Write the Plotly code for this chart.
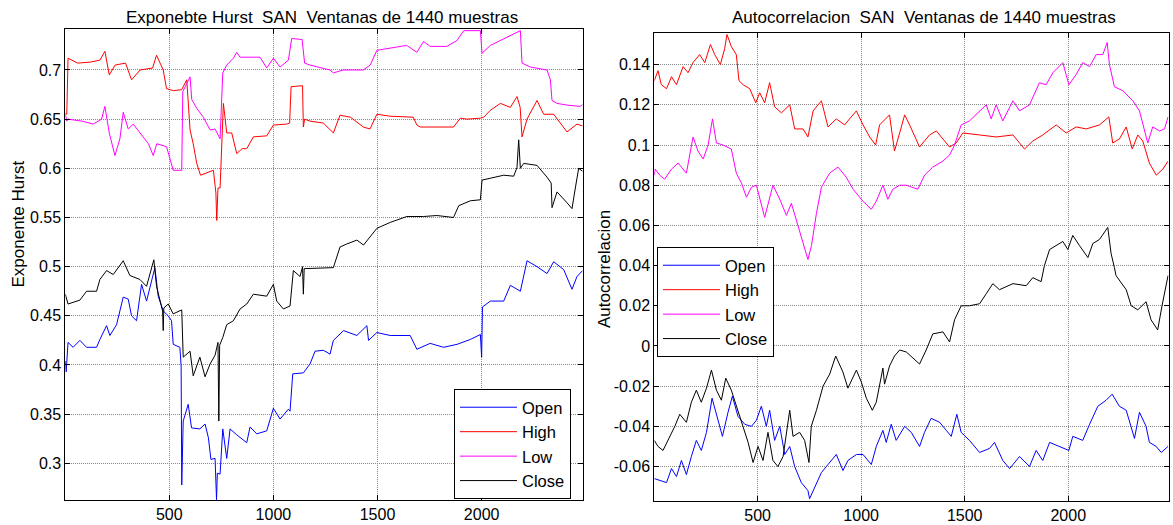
import plotly.graph_objects as go

# ---------------- Left panel: Hurst exponent ----------------
hurst_open_x = [1,5,14,38,71,103,151,167,199,215,247,279,303,319,343,367,391,431,447,471,495,511,519,551,557,560,567,591,607,647,672,688,700,720,727,731,744,757,776,792,824,872,888,920,968,1000,1032,1072,1080,1093,1144,1176,1200,1240,1272,1288,1337,1401,1449,1457,1497,1561,1657,1689,1753,1817,1882,1946,1994,2000,2004,2042,2106,2138,2186,2218,2266,2314,2346,2394,2434,2458,2485]
hurst_open_y = [0.404,0.393,0.423,0.418,0.425,0.418,0.418,0.426,0.440,0.430,0.441,0.469,0.467,0.450,0.445,0.482,0.465,0.499,0.470,0.455,0.450,0.445,0.421,0.418,0.399,0.278,0.343,0.360,0.336,0.335,0.340,0.326,0.304,0.305,0.263,0.290,0.289,0.335,0.305,0.335,0.329,0.321,0.337,0.330,0.333,0.356,0.345,0.355,0.353,0.391,0.392,0.401,0.414,0.415,0.411,0.425,0.435,0.430,0.440,0.425,0.433,0.430,0.430,0.416,0.422,0.418,0.421,0.426,0.431,0.408,0.459,0.465,0.465,0.481,0.475,0.506,0.500,0.493,0.505,0.497,0.477,0.490,0.496]

hurst_high_x = [1,8,14,60,120,167,191,212,240,290,319,360,420,439,471,487,520,560,584,600,615,632,650,712,724,728,734,744,760,776,800,824,850,872,904,968,1000,1064,1078,1085,1140,1144,1150,1176,1240,1288,1320,1370,1432,1464,1497,1560,1672,1689,1705,1865,1898,1930,1994,2010,2042,2090,2138,2170,2185,2194,2218,2266,2298,2346,2410,2458,2485]
hurst_high_y = [0.656,0.655,0.712,0.707,0.708,0.710,0.719,0.695,0.705,0.707,0.690,0.700,0.702,0.715,0.700,0.681,0.679,0.680,0.690,0.639,0.625,0.605,0.593,0.598,0.575,0.547,0.580,0.580,0.666,0.636,0.636,0.615,0.620,0.620,0.632,0.633,0.644,0.645,0.646,0.683,0.684,0.642,0.650,0.648,0.646,0.636,0.654,0.652,0.642,0.640,0.655,0.653,0.652,0.644,0.642,0.642,0.651,0.650,0.651,0.652,0.659,0.666,0.662,0.673,0.662,0.632,0.650,0.669,0.655,0.655,0.637,0.645,0.643]

hurst_low_x = [1,8,14,80,135,175,191,212,239,263,279,303,327,375,400,423,440,487,519,560,565,600,608,632,664,696,720,744,757,776,808,824,840,936,968,1000,1032,1072,1088,1138,1144,1150,1176,1272,1288,1336,1432,1465,1497,1560,1640,1689,1721,1753,1833,1882,1914,1994,2002,2042,2106,2186,2194,2234,2314,2330,2338,2362,2420,2474,2485]
hurst_low_y = [0.655,0.648,0.650,0.648,0.645,0.650,0.663,0.636,0.613,0.630,0.657,0.640,0.645,0.632,0.625,0.613,0.625,0.622,0.598,0.598,0.678,0.693,0.670,0.661,0.652,0.639,0.640,0.630,0.697,0.705,0.712,0.718,0.713,0.713,0.702,0.712,0.703,0.710,0.732,0.731,0.720,0.707,0.705,0.700,0.697,0.700,0.700,0.705,0.720,0.722,0.725,0.718,0.729,0.724,0.724,0.730,0.740,0.740,0.717,0.725,0.732,0.740,0.707,0.703,0.700,0.690,0.669,0.666,0.664,0.663,0.665]

hurst_close_x = [1,14,71,103,151,167,199,231,279,311,359,391,426,439,468,471,474,495,519,560,567,600,615,647,672,696,720,734,738,742,757,776,808,840,872,904,968,1000,1016,1048,1080,1096,1128,1140,1144,1148,1288,1320,1352,1401,1433,1465,1497,1561,1609,1641,1721,1785,1865,1890,1946,1994,2002,2042,2106,2154,2170,2178,2186,2202,2266,2314,2334,2338,2345,2362,2410,2434,2450,2466,2485]
hurst_close_y = [0.472,0.462,0.466,0.475,0.475,0.487,0.496,0.492,0.506,0.491,0.487,0.480,0.507,0.480,0.455,0.435,0.458,0.462,0.452,0.456,0.408,0.414,0.389,0.408,0.388,0.401,0.410,0.423,0.343,0.420,0.428,0.441,0.445,0.457,0.462,0.472,0.470,0.482,0.465,0.457,0.460,0.496,0.490,0.500,0.472,0.498,0.499,0.520,0.523,0.527,0.522,0.530,0.539,0.545,0.549,0.551,0.551,0.552,0.550,0.562,0.567,0.568,0.588,0.590,0.593,0.592,0.601,0.629,0.600,0.605,0.603,0.591,0.585,0.560,0.565,0.576,0.565,0.559,0.580,0.600,0.597]

# ---------------- Right panel: autocorrelation ----------------
acf_open_x = [1,27,60,84,108,132,156,180,204,228,253,280,301,330,357,378,405,438,470,494,518,542,558,582,607,631,655,679,711,743,751,776,808,840,880,912,936,977,1009,1049,1073,1105,1121,1145,1169,1210,1242,1282,1306,1338,1379,1411,1435,1462,1483,1523,1572,1620,1644,1684,1717,1765,1813,1845,1877,1910,1958,2003,2022,2070,2103,2143,2183,2212,2247,2280,2320,2344,2376,2392,2425,2449,2482]
acf_open_y = [-0.066,-0.067,-0.068,-0.061,-0.065,-0.057,-0.064,-0.055,-0.047,-0.052,-0.043,-0.026,-0.034,-0.045,-0.033,-0.025,-0.035,-0.039,-0.040,-0.037,-0.030,-0.040,-0.032,-0.047,-0.040,-0.054,-0.050,-0.060,-0.068,-0.072,-0.076,-0.070,-0.063,-0.059,-0.054,-0.062,-0.057,-0.054,-0.054,-0.059,-0.050,-0.042,-0.048,-0.039,-0.047,-0.040,-0.043,-0.050,-0.043,-0.036,-0.038,-0.042,-0.045,-0.034,-0.043,-0.047,-0.053,-0.051,-0.048,-0.057,-0.061,-0.055,-0.060,-0.052,-0.057,-0.048,-0.050,-0.052,-0.045,-0.047,-0.039,-0.030,-0.027,-0.024,-0.030,-0.032,-0.046,-0.033,-0.040,-0.048,-0.050,-0.053,-0.050]

acf_high_x = [1,19,35,60,84,108,140,164,188,220,245,272,293,320,341,352,373,397,410,430,462,491,510,534,558,582,615,655,679,719,743,768,808,840,880,920,944,977,1009,1041,1070,1089,1137,1161,1186,1210,1234,1282,1330,1363,1395,1427,1459,1491,1572,1652,1733,1789,1829,1877,1942,1990,2038,2087,2151,2196,2215,2247,2280,2309,2336,2360,2392,2425,2457,2482]
acf_high_y = [0.132,0.137,0.130,0.128,0.134,0.130,0.139,0.136,0.141,0.145,0.141,0.150,0.145,0.140,0.148,0.155,0.149,0.145,0.132,0.130,0.128,0.121,0.126,0.121,0.131,0.119,0.116,0.120,0.108,0.108,0.104,0.117,0.122,0.109,0.113,0.110,0.113,0.117,0.110,0.104,0.100,0.110,0.115,0.097,0.106,0.115,0.110,0.099,0.105,0.107,0.103,0.099,0.101,0.106,0.105,0.104,0.105,0.098,0.102,0.105,0.110,0.106,0.109,0.108,0.110,0.114,0.101,0.103,0.109,0.098,0.105,0.102,0.091,0.085,0.088,0.092]

acf_low_x = [1,5,27,51,84,116,156,188,212,237,261,282,301,333,373,397,422,446,470,494,534,574,607,639,663,695,719,743,760,784,808,848,888,928,961,985,1009,1049,1073,1105,1129,1153,1186,1218,1250,1274,1306,1346,1395,1427,1451,1483,1523,1572,1604,1628,1652,1684,1733,1765,1813,1861,1893,1926,1974,2003,2038,2070,2103,2135,2167,2188,2199,2223,2264,2312,2344,2384,2408,2441,2465,2482]
acf_low_y = [0.085,0.088,0.085,0.083,0.088,0.091,0.086,0.104,0.097,0.093,0.100,0.113,0.101,0.100,0.098,0.086,0.081,0.074,0.079,0.080,0.064,0.080,0.073,0.065,0.071,0.060,0.051,0.043,0.050,0.066,0.079,0.086,0.089,0.084,0.078,0.075,0.072,0.068,0.072,0.080,0.073,0.078,0.080,0.080,0.079,0.078,0.085,0.089,0.092,0.095,0.100,0.110,0.112,0.117,0.120,0.113,0.120,0.112,0.122,0.117,0.120,0.131,0.130,0.136,0.141,0.130,0.135,0.141,0.139,0.145,0.145,0.151,0.140,0.129,0.127,0.122,0.117,0.101,0.109,0.107,0.108,0.114]

acf_close_x = [1,19,43,76,100,124,156,180,204,228,253,277,301,325,346,373,397,430,454,478,502,526,550,574,598,623,655,671,703,727,748,759,784,816,848,877,912,936,977,1001,1025,1054,1073,1105,1113,1137,1161,1186,1218,1250,1282,1314,1346,1395,1427,1451,1483,1523,1572,1604,1636,1668,1733,1797,1829,1869,1885,1910,1974,1998,2022,2054,2095,2119,2151,2191,2207,2223,2231,2280,2304,2336,2376,2400,2432,2453,2465,2482]
acf_close_y = [-0.047,-0.050,-0.052,-0.045,-0.040,-0.034,-0.038,-0.028,-0.022,-0.028,-0.021,-0.012,-0.022,-0.027,-0.016,-0.022,-0.030,-0.040,-0.048,-0.058,-0.050,-0.057,-0.043,-0.057,-0.060,-0.055,-0.032,-0.045,-0.043,-0.047,-0.058,-0.040,-0.032,-0.020,-0.014,-0.005,-0.013,-0.021,-0.012,-0.018,-0.026,-0.032,-0.028,-0.011,-0.019,-0.010,-0.005,-0.002,-0.003,-0.006,-0.009,-0.002,0.006,0.007,0.002,0.013,0.020,0.020,0.021,0.026,0.031,0.028,0.031,0.030,0.034,0.032,0.040,0.048,0.052,0.048,0.055,0.050,0.044,0.051,0.053,0.059,0.046,0.039,0.035,0.028,0.020,0.018,0.022,0.013,0.008,0.020,0.026,0.035]

series_names = ["Open", "High", "Low", "Close"]
series_colors = ["#0000ff", "#ff0000", "#ff00ff", "#000000"]

x_tick_vals = [500, 1000, 1500, 2000]
hurst_tick_vals = [0.3, 0.35, 0.4, 0.45, 0.5, 0.55, 0.6, 0.65, 0.7]
hurst_tick_text = ["0.3", "0.35", "0.4", "0.45", "0.5", "0.55", "0.6", "0.65", "0.7"]
acf_tick_vals = [-0.06, -0.04, -0.02, 0, 0.02, 0.04, 0.06, 0.08, 0.1, 0.12, 0.14]
acf_tick_text = ["-0.06", "-0.04", "-0.02", "0", "0.02", "0.04", "0.06", "0.08", "0.1", "0.12", "0.14"]

left_series = [(hurst_open_x, hurst_open_y), (hurst_high_x, hurst_high_y),
               (hurst_low_x, hurst_low_y), (hurst_close_x, hurst_close_y)]
right_series = [(acf_open_x, acf_open_y), (acf_high_x, acf_high_y),
                (acf_low_x, acf_low_y), (acf_close_x, acf_close_y)]
for sx, sy in left_series + right_series:
    assert len(sx) == len(sy)

FONT = "Liberation Sans, Arial, sans-serif"
FS = 16
FS_TITLE = 17
FS_LEG = 16.5
fig = go.Figure()

for i, (sx, sy) in enumerate(left_series):
    fig.add_trace(go.Scatter(x=sx, y=sy, mode="lines", name=series_names[i],
                             line=dict(color=series_colors[i], width=1),
                             xaxis="x", yaxis="y", legend="legend",
                             legendgroup="L" + str(i)))
for i, (sx, sy) in enumerate(right_series):
    fig.add_trace(go.Scatter(x=sx, y=sy, mode="lines", name=series_names[i],
                             line=dict(color=series_colors[i], width=1),
                             xaxis="x2", yaxis="y2", legend="legend2",
                             legendgroup="R" + str(i)))

axis_common = dict(showline=True, linecolor="black", linewidth=1, mirror="ticks",
                   ticks="inside", ticklen=5, tickcolor="black",
                   showgrid=True, gridcolor="#8a8a8a", griddash="1px,1px", gridwidth=1,
                   zeroline=False, tickfont=dict(family=FONT, size=FS, color="black"),
                   ticklabelstandoff=0)

legend_common = dict(xanchor="left", yanchor="top",
                     bgcolor="white", bordercolor="black", borderwidth=1,
                     font=dict(family=FONT, size=FS_LEG, color="black"),
                     itemwidth=57, tracegroupgap=0, traceorder="grouped")

fig.update_layout(
    width=1173, height=525,
    margin=dict(l=0, r=0, t=0, b=0),
    paper_bgcolor="white", plot_bgcolor="white",
    font=dict(family=FONT, size=FS, color="black"),
    showlegend=True,
    xaxis=dict(domain=[0.0557, 0.4967], range=[1, 2485], tickvals=x_tick_vals,
               anchor="y", **axis_common),
    yaxis=dict(domain=[0.0476, 0.9448], range=[0.2627, 0.7417],
               tickvals=hurst_tick_vals, ticktext=hurst_tick_text,
               anchor="x", **axis_common),
    xaxis2=dict(domain=[0.5578, 0.9963], range=[1, 2485], tickvals=x_tick_vals,
                anchor="y2", **axis_common),
    yaxis2=dict(domain=[0.0463, 0.9366], range=[-0.077, 0.1556],
                tickvals=acf_tick_vals, ticktext=acf_tick_text,
                anchor="x2", **axis_common),
    legend=dict(x=454/1173, y=1-389/525, **legend_common),
    legend2=dict(x=657/1173, y=1-247/525, **legend_common),
)

NB = "\u00a0"
annotations = [
    dict(text="Exponebte Hurst" + NB*2 + "SAN" + NB*2 + "Ventanas de 1440 muestras",
         x=322/1173, y=1-18/525, xref="paper", yref="paper",
         xanchor="center", yanchor="middle", showarrow=False,
         font=dict(family=FONT, size=FS_TITLE, color="black")),
    dict(text="Autocorrelacion" + NB*2 + "SAN" + NB*2 + "Ventanas de 1440 muestras",
         x=924/1173, y=1-18/525, xref="paper", yref="paper",
         xanchor="center", yanchor="middle", showarrow=False,
         font=dict(family=FONT, size=FS_TITLE, color="black")),
    dict(text="Exponente Hurst", textangle=-90,
         x=17.5/1173, y=1-224/525, xref="paper", yref="paper",
         xanchor="center", yanchor="middle", showarrow=False,
         font=dict(family=FONT, size=FS_TITLE, color="black")),
    dict(text="Autocorrelacion", textangle=-90,
         x=604/1173, y=1-269/525, xref="paper", yref="paper",
         xanchor="center", yanchor="middle", showarrow=False,
         font=dict(family=FONT, size=FS_TITLE, color="black")),
]
fig.update_layout(annotations=annotations)

fig.write_html("out.html")
